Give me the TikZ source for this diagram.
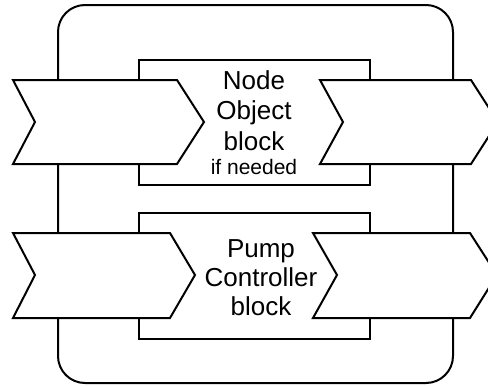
\documentclass[tikz,border=0pt]{standalone}
\usepackage{fontspec}
\setmainfont{Liberation Sans}
\begin{document}
\begin{tikzpicture}[x=1pt,y=-1pt,
  line/.style={draw=black,line width=2pt,line join=miter},
  outerbox/.style={line,rounded corners=27pt},
  block/.style={line,fill=white},
  chev/.style={line,fill=white},
  big/.style={font=\fontsize{26}{30}\selectfont,anchor=base,inner sep=0pt},
  small/.style={font=\fontsize{21}{24}\selectfont,anchor=base,inner sep=0pt}]
\useasboundingbox (0,0) rectangle (488,386);
\clip (0,0) rectangle (488,386);
\draw[outerbox] (58,5) rectangle (453,383);
% blocks
\draw[block] (139,60) rectangle (370,185);
\draw[block] (139,213) rectangle (370,339);
% chevrons
\draw[chev] (13,80) -- (177,80) -- (204,122) -- (177,164) -- (13,164) -- (35,122) -- cycle;
\draw[chev] (320,80) -- (471,80) -- (498,122) -- (471,164) -- (320,164) -- (343,122) -- cycle;
\draw[chev] (13,233) -- (170,233) -- (195,275) -- (170,318) -- (13,318) -- (35,275) -- cycle;
\draw[chev] (313,233) -- (470,233) -- (497,275) -- (470,318) -- (313,318) -- (337,275) -- cycle;
% texts
\node[big] (t1) at (254,89) {Node};
\node[big] (t2) at (254,119) {Object};
\node[big] (t3) at (254,150) {block};
\node[small] (t4) at (254,174) {if needed};
\node[big] (p1) at (261,257) {Pump};
\node[big] (p2) at (261,286) {Controller};
\node[big] (p3) at (261,315) {block};
\end{tikzpicture}
\end{document}
